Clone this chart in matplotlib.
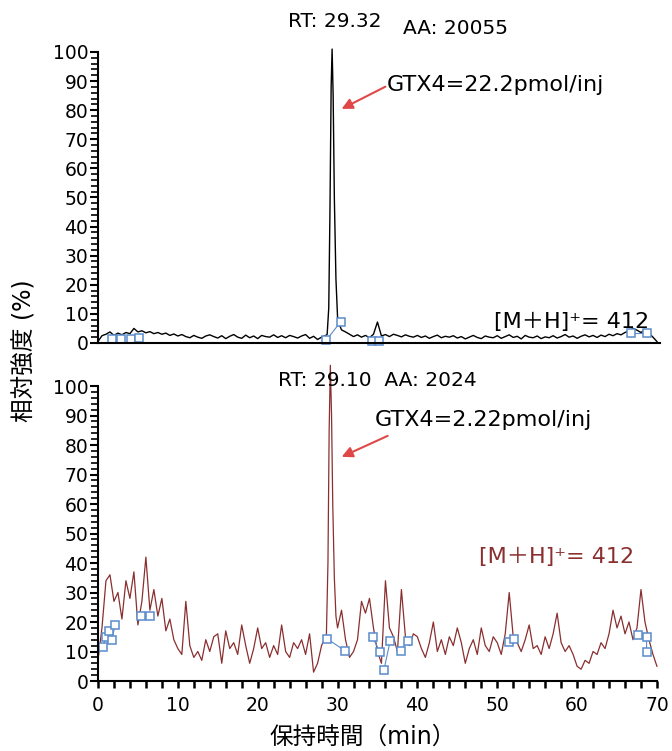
import numpy as np
import matplotlib.pyplot as plt
from matplotlib.ticker import MultipleLocator

plt.rcParams['font.family'] = ['DejaVu Sans', 'Noto Sans CJK JP']

# retention time grid (min) and intensities (%)
time = np.arange(0, 70.01, 0.5)

top_signal = [
    0.5, 2.5, 3.0, 3.8, 2.6, 3.4, 2.8, 3.6, 3.2, 5.0,
    3.8, 4.2, 3.5, 3.9, 3.2, 3.6, 3.0, 3.4, 2.6, 3.1,
    2.4, 2.9, 2.2, 1.8, 2.6, 2.0, 1.6, 2.4, 2.8, 2.2,
    1.7, 2.5, 1.5, 2.3, 2.9, 2.0, 1.6, 2.7, 1.8, 2.4,
    1.5, 2.6, 2.2, 2.0, 2.8, 1.9, 2.5, 1.8, 2.6, 2.2,
    1.7, 2.4, 2.9, 1.6, 2.3, 1.2, 2.0, 2.5, 2.0, 2.0,
    5.5, 4.5, 3.8, 3.0, 2.2, 2.8, 2.0, 2.6, 1.8, 3.0,
    7.2, 2.4, 2.9, 2.2, 3.0, 2.6, 2.1, 2.8, 2.3, 2.0,
    2.6, 1.9, 2.4, 1.6, 2.2, 2.7, 1.8, 2.3, 2.0, 2.5,
    1.7, 2.2, 1.4, 2.0, 2.6, 1.9, 1.5, 2.4, 2.0, 1.8,
    2.5, 1.6, 2.2, 2.8, 1.9, 2.3, 1.4, 2.6, 2.0, 1.8,
    2.4, 1.5, 2.1, 1.8, 2.5, 1.7, 2.2, 2.9, 2.0, 2.4,
    1.6, 2.3, 2.8, 2.1, 2.6, 1.9, 2.7, 2.2, 3.0, 2.5,
    3.2, 2.8, 3.6, 4.2, 5.0, 4.4, 3.6, 4.5, 3.4, 2.0,
    0.5,
]
top_peak_t = [28.7, 28.9, 29.05, 29.2, 29.32, 29.45, 29.6, 29.8, 30.0, 30.2]
top_peak_y = [3, 12, 45, 88, 101, 85, 50, 22, 9, 6.5]

bottom_signal = [
    7, 18, 34, 36, 27, 30, 21, 34, 28, 37,
    19, 27, 42, 24, 31, 22, 28, 17, 21, 14,
    11, 9, 27, 12, 8, 10, 7, 14, 10, 15,
    16, 6, 17, 11, 13, 9, 19, 12, 6, 11,
    18, 11, 13, 8, 12, 9, 19, 10, 8, 13,
    11, 14, 9, 16, 3, 6, 12, 15, 15, 20,
    18, 24, 14, 8, 10, 14, 27, 23, 28, 18,
    10, 6, 34, 18, 15, 10, 31, 15, 12, 16,
    15, 11, 8, 13, 20, 10, 14, 9, 15, 12,
    18, 13, 6, 11, 14, 9, 18, 12, 10, 15,
    13, 9, 16, 30, 15, 13, 10, 14, 19, 11,
    12, 9, 15, 11, 16, 23, 13, 10, 12, 9,
    5, 4, 7, 6, 10, 9, 13, 11, 16, 24,
    18, 22, 16, 20, 14, 18, 31, 20, 14, 9,
    5,
]
bottom_peak_t = [28.6, 28.8, 28.95, 29.1, 29.25, 29.4, 29.6, 29.8, 30.0]
bottom_peak_y = [15, 40, 85, 107, 90, 60, 35, 22, 18]

# integration baseline segments (blue squares)
top_base_t = [[1.7, 2.9], [4.1, 5.1], [28.6, 30.4], [34.3, 35.2], [66.7, 68.8]]
top_base_y = [[1.3, 1.3], [1.3, 1.8], [1.0, 7.3], [0.6, 0.6], [3.5, 3.5]]
bottom_base_t = [[0.6, 1.0, 1.4, 1.8, 2.1], [5.4, 6.5], [28.7, 30.9], [34.4, 35.3],
                 [35.8, 36.6], [37.9, 38.8], [51.5, 52.1], [67.6, 68.7, 68.7]]
bottom_base_y = [[11.6, 14.8, 17, 14, 19], [22, 22], [14.3, 10.3], [14.8, 9.8],
                 [3.6, 13.7], [10.3, 13.7], [13.2, 14.3], [15.6, 14.9, 9.8]]


def merge(t, y, pt, py):
    t = np.asarray(t, float)
    y = np.asarray(y, float)
    keep = (t < pt[0]) | (t > pt[-1])
    tt = np.concatenate([t[keep], pt])
    yy = np.concatenate([y[keep], py])
    order = np.argsort(tt)
    return tt[order], yy[order]


fig = plt.figure(figsize=(6.72, 7.51), dpi=100)
ax1 = fig.add_axes([0.1458, 0.5433, 0.8318, 0.3875])
ax2 = fig.add_axes([0.1458, 0.0932, 0.8318, 0.3928])

blue = '#5a8ccc'
brown = '#8a2f2f'

t1, y1 = merge(time, top_signal, top_peak_t, top_peak_y)
ax1.plot(t1, y1, color='black', lw=1.0, clip_on=False)
for bt, by in zip(top_base_t, top_base_y):
    ax1.plot(bt, by, color=blue, lw=0.8, marker='s', ms=6, mfc='white',
             mec=blue, mew=1.1, clip_on=False)

t2, y2 = merge(time, bottom_signal, bottom_peak_t, bottom_peak_y)
ax2.plot(t2, y2, color=brown, lw=0.9, clip_on=False)
for bt, by in zip(bottom_base_t, bottom_base_y):
    ax2.plot(bt, by, color=blue, lw=0.8, marker='s', ms=6, mfc='white',
             mec=blue, mew=1.1, clip_on=False)

for ax in (ax1, ax2):
    ax.set_xlim(0, 70)
    ax.set_ylim(0, 100)
    ax.spines['top'].set_visible(False)
    ax.spines['right'].set_visible(False)
    ax.spines['left'].set_linewidth(1.5)
    ax.spines['bottom'].set_linewidth(1.5)
    ax.yaxis.set_major_locator(MultipleLocator(10))
    ax.yaxis.set_minor_locator(MultipleLocator(2))
    ax.tick_params(axis='y', which='major', length=6, width=1.5, pad=1, labelsize=13.5)
    ax.tick_params(axis='y', which='minor', length=5, width=1.2)

ax1.tick_params(axis='x', which='both', bottom=False, labelbottom=False)
ax1.spines['bottom'].set_bounds(0, 70.4)

ax2.xaxis.set_major_locator(MultipleLocator(10))
ax2.xaxis.set_minor_locator(MultipleLocator(2))
ax2.tick_params(axis='x', which='major', length=5, width=1.8, pad=6, labelsize=13.5)
ax2.tick_params(axis='x', which='minor', length=5, width=1.8)

# annotations, top panel
ax1.text(29.7, 110.3, 'RT: 29.32', ha='center', va='center', fontsize=14.5)
ax1.text(44.8, 107.9, 'AA: 20055', ha='center', va='center', fontsize=14.5)
ax1.text(36.2, 88.7, 'GTX4=22.2pmol/inj', ha='left', va='center', fontsize=16)
ax1.annotate('', xy=(30.2, 80), xytext=(36.3, 88.5),
             arrowprops=dict(arrowstyle='-|>', color='#e04848', lw=1.5, mutation_scale=16))
ax1.text(69.0, 7.2, '[M＋H]⁺= 412', ha='right', va='center', fontsize=16)

# annotations, bottom panel
ax2.text(35.0, 102, 'RT: 29.10  AA: 2024', ha='center', va='center', fontsize=14.5)
ax2.text(34.7, 88.5, 'GTX4=2.22pmol/inj', ha='left', va='center', fontsize=16)
ax2.annotate('', xy=(30.2, 75.6), xytext=(36.6, 83.5),
             arrowprops=dict(arrowstyle='-|>', color='#e04848', lw=1.5, mutation_scale=16))
ax2.text(67.1, 42, '[M＋H]⁺= 412', ha='right', va='center', fontsize=16, color=brown)

fig.text(0.036, 0.533, '相対強度 (%)', rotation=90, ha='center', va='center', fontsize=17)
fig.text(0.539, 0.019, '保持時間（min）', ha='center', va='center', fontsize=17)

fig.savefig('out.png', dpi=100)
